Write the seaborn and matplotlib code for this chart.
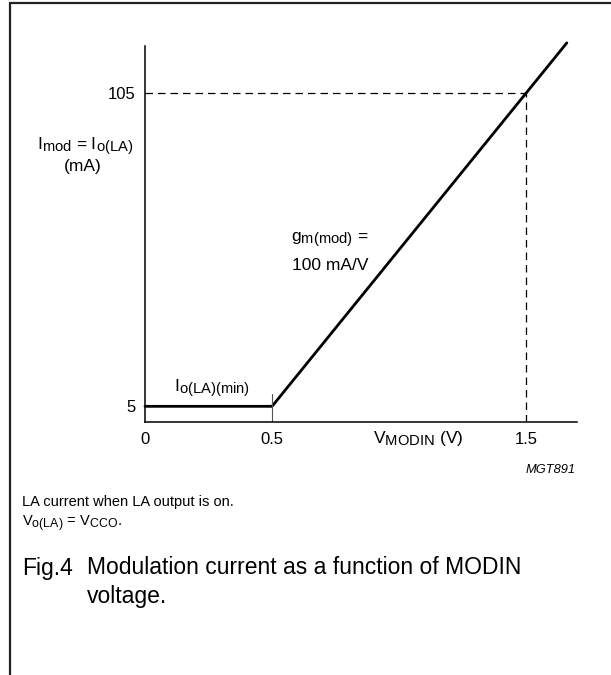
import numpy as np
import pandas as pd
import matplotlib
matplotlib.use("Agg")
import matplotlib.pyplot as plt
import matplotlib._mathtext as mtext
import seaborn as sns
from matplotlib.lines import Line2D

# data
modin_v = [0.0, 0.5, 1.66]
i_mod_ma = [5, 5, 121]
x_ticks = [0, 0.5, 1.5]
x_tick_labels = ["0", "0.5", "1.5"]
y_ticks = [5, 105]
y_tick_labels = ["5", "105"]
ref_v = 1.5
ref_ma = 105
knee_v = 0.5

W, H = 611, 675

sns.set_theme(style="white")
plt.rcParams["font.family"] = ["Liberation Sans", "DejaVu Sans"]
plt.rcParams["text.color"] = "black"
plt.rcParams["mathtext.fontset"] = "custom"
plt.rcParams["mathtext.rm"] = "Liberation Sans"
plt.rcParams["mathtext.it"] = "Liberation Sans:italic"
# datasheet-style subscripts are only a little smaller than the base text
mtext.SHRINK_FACTOR = 0.85


def fx(x):
    return x / W


def fy(y):
    return 1 - y / H


fig = plt.figure(figsize=(W / 100, H / 100), dpi=100)
ax = fig.add_axes([fx(145), fy(422), fx(577) - fx(145), fy(46) - fy(422)])

df = pd.DataFrame({"V": modin_v, "I": i_mod_ma})
sns.lineplot(data=df, x="V", y="I", ax=ax, color="black", linewidth=2.0,
             clip_on=False, sort=False)

# dashed guides to the 1.5 V / 105 mA point
ax.plot([0, ref_v], [ref_ma, ref_ma], color="black", lw=0.9, ls=(0, (6, 4)))
ax.plot([ref_v, ref_v], [0, ref_ma], color="black", lw=0.9, ls=(0, (6, 4)))
# small marker at the knee
ax.plot([knee_v, knee_v], [0, 9], color="#555555", lw=0.8)

ax.set_xlim(0, 1.70)
ax.set_ylim(0, 120)
ax.set_xticks(x_ticks)
ax.set_xticklabels(x_tick_labels)
ax.set_yticks(y_ticks)
ax.set_yticklabels(y_tick_labels)
ax.tick_params(length=0, labelsize=12, pad=7, colors="black")
ax.set_xlabel("")
ax.set_ylabel("")
sns.despine(ax=ax)
for s in ["left", "bottom"]:
    ax.spines[s].set_color("black")
    ax.spines[s].set_linewidth(1.1)

# annotations
fig.text(fx(85), fy(147), r"$\mathrm{I_{mod}}$ = $\mathrm{I_{o(LA)}}$", ha="center",
         va="center", fontsize=12.5)
fig.text(fx(83), fy(167), "(mA)", ha="center", va="center", fontsize=12.5)
fig.text(fx(212), fy(389), r"$\mathrm{I_{o(LA)(min)}}$", ha="center", va="center",
         fontsize=12.5)
fig.text(fx(330), fy(240), r"$\mathrm{g_{m(mod)}}$ =", ha="center", va="center",
         fontsize=12.5)
fig.text(fx(330), fy(265), "100 mA/V", ha="center", va="center", fontsize=12.5)
fig.text(fx(418), fy(438), r"$\mathrm{V_{MODIN}}$ (V)", ha="center", va="center",
         fontsize=12.5)
fig.text(fx(576), fy(470), "MGT891", ha="right", va="center", fontsize=9.3,
         style="italic")

fig.text(fx(22), fy(502), "LA current when LA output is on.", ha="left",
         va="center", fontsize=10.5)
fig.text(fx(22), fy(523), r"$\mathrm{V_{o(LA)}}$ = $\mathrm{V_{CCO}}$.", ha="left",
         va="center", fontsize=10.5)
fig.text(fx(22), fy(568), "Fig.4", ha="left", va="center", fontsize=16.5)
fig.text(fx(87), fy(568), "Modulation current as a function of MODIN",
         ha="left", va="center", fontsize=16.5)
fig.text(fx(87), fy(596), "voltage.", ha="left", va="center", fontsize=16.5)

# page frame: top and left edges only
fig.add_artist(Line2D([fx(10), 1], [fy(3), fy(3)], color="#222222", lw=1.6))
fig.add_artist(Line2D([fx(10), fx(10)], [fy(3), 0], color="#222222", lw=1.6))

fig.savefig("out.png", dpi=100)
